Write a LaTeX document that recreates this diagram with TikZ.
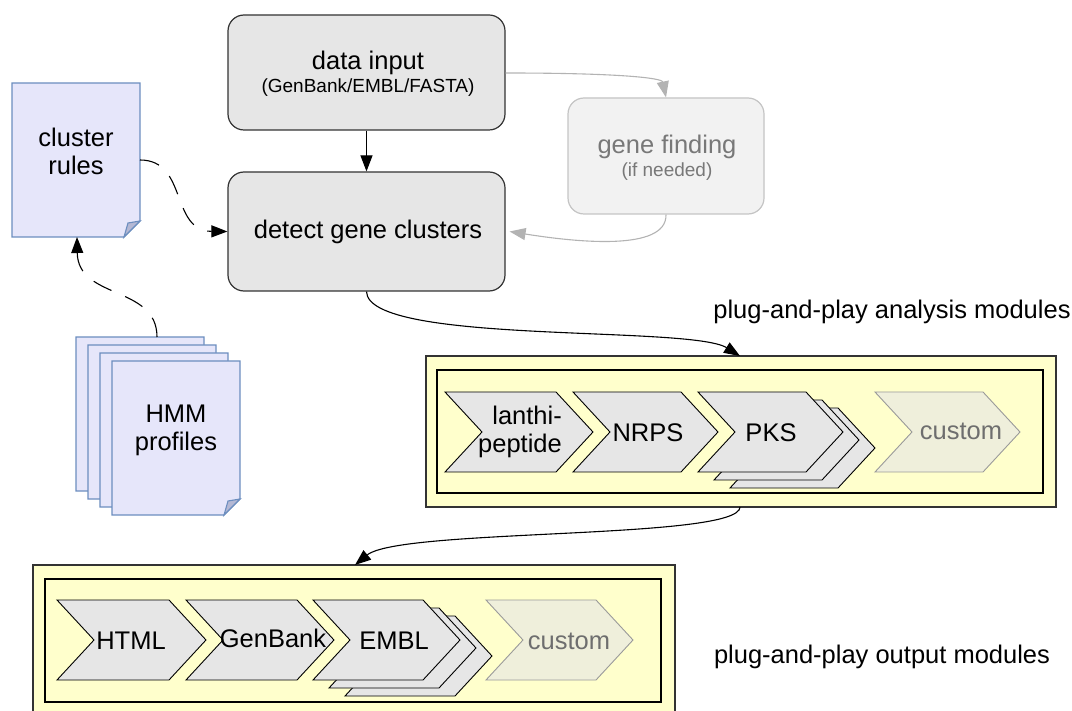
\documentclass[tikz,border=0pt]{standalone}
\usepackage{fontspec}
\setmainfont{Liberation Sans}
\usetikzlibrary{arrows.meta}
\definecolor{boxfill}{HTML}{E6E6E6}
\definecolor{boxline}{HTML}{333333}
\definecolor{gfill}{HTML}{F2F2F2}
\definecolor{gline}{HTML}{C4C4C4}
\definecolor{gtext}{HTML}{787878}
\definecolor{garrow}{HTML}{B3B3B3}
\definecolor{docfill}{HTML}{E6E6FA}
\definecolor{docline}{HTML}{6C8EBF}
\definecolor{foldfill}{HTML}{B4B8D4}
\definecolor{yel}{HTML}{FFFFCC}
\definecolor{cusfill}{HTML}{EFEFDB}
\definecolor{cusline}{HTML}{9A9A9A}
\definecolor{custext}{HTML}{6E6E6E}
\newcommand{\bigf}{\fontsize{25.5}{28}\selectfont}
\newcommand{\smallf}{\fontsize{19}{22}\selectfont}
\newcommand{\chevpath}[4]{% x y w style
  \draw[#4] (#1,#2) -- (#1+#3-37,#2) -- (#1+#3,#2+40) -- (#1+#3-37,#2+80) -- (#1,#2+80) -- (#1+37,#2+40) -- cycle;}
\newcommand{\docpath}[2]{% x y
  \draw[docstyle] (#1,#2) -- (#1+128,#2) -- (#1+128,#2+138) -- (#1+112,#2+154) -- (#1,#2+154) -- cycle;
  \draw[docstyle,fill=foldfill] (#1+128,#2+138) -- (#1+112,#2+154) -- (#1+116,#2+140) -- cycle;}
\begin{document}
\begin{tikzpicture}[x=1pt,y=-1pt,
  box/.style={draw=boxline,fill=boxfill,line width=1.2pt,rounded corners=16pt,inner sep=0pt},
  gbox/.style={draw=gline,fill=gfill,line width=1.2pt,rounded corners=16pt,inner sep=0pt},
  docstyle/.style={draw=docline,fill=docfill,line width=1.1pt,line join=miter},
  lbl/.style={font=\bigf,align=center,inner sep=0pt},
  slbl/.style={font=\smallf,align=center,inner sep=0pt},
  chev/.style={draw=black,fill=boxfill,line width=0.9pt,line join=miter},
  cchev/.style={draw=cusline,fill=cusfill,line width=0.9pt,line join=miter},
  ybox/.style={draw=boxline,fill=yel,line width=1.2pt},
  ibox/.style={draw=black,line width=1.2pt},
  arr/.style={-{Triangle[length=16pt,width=12pt]},line width=1.1pt},
  garr/.style={-{Triangle[length=16pt,width=12pt]},line width=1.1pt,draw=garrow,color=garrow},
  darr/.style={arr,dash pattern=on 20pt off 15pt}
]
\useasboundingbox (0,0) rectangle (1072,711);

% main boxes
\node[box,minimum width=277pt,minimum height=115pt] (input) at (366.5,72.5) {};
\node[lbl] (inputT) at (368,63) {data input};
\node[slbl] (inputS) at (368,88) {(GenBank/EMBL/FASTA)};
\node[box,minimum width=277pt,minimum height=119pt] (detect) at (366.5,231.5) {};
\node[lbl] (detectT) at (368,232) {detect gene clusters};
\node[gbox,minimum width=196pt,minimum height=116pt] (gene) at (666,156) {};
\node[lbl,text=gtext] (geneT) at (667,147) {gene finding};
\node[slbl,text=gtext] (geneS) at (667,172) {(if needed)};

\draw[arr] (input.south) -- (detect.north);
\draw[garr] (input.east |- 0,73) .. controls (620,73) and (662,78) .. (gene.north);
\coordinate (detR) at (detect.east);
\draw[garr] (gene.south) .. controls (667,252) and (575,242) .. ([xshift=4pt]detR);

% cluster rules document
\docpath{12}{83}
\node[lbl] (rules) at (76,151) {cluster\\rules};
\coordinate (rulesR) at (140,160);
\coordinate (rulesB) at (77,237);

% HMM profile stack
\docpath{76}{337}
\docpath{88}{345}
\docpath{100}{353}
\docpath{112}{361}
\node[lbl] (hmm) at (176,430) {HMM\\profiles};
\coordinate (hmmT) at (157,337);

\draw[darr] (hmmT) .. controls (157,285) and (78,300) .. (rulesB);
\draw[darr] (rulesR) .. controls (188,160) and (170,231) .. (detect.west);

% analysis modules
\node[lbl] (alabel) at (892,312) {plug-and-play analysis modules};
\draw[ybox] (426,356) rectangle (1056,507);
\draw[ibox] (437,370) rectangle (1043,493);
\coordinate (aTop) at (740,356);
\coordinate (aBot) at (740,507);
\chevpath{445}{392}{148}{chev}
\chevpath{573}{392}{145}{chev}
\chevpath{730}{408}{145}{chev}
\chevpath{714}{400}{145}{chev}
\chevpath{698}{392}{145}{chev}
\chevpath{875}{392}{145}{cchev}
\node[lbl,align=right] (lanthi) at (520,432) {lanthi-\\peptide};
\node[lbl] (nrps) at (648,433) {NRPS};
\node[lbl] (pks) at (771,433) {PKS};
\node[lbl,text=custext] (acustom) at (961,431) {custom};

\draw[arr] (detect.south) .. controls (368,345) and (690,325) .. (aTop);

% output modules
\node[lbl] (olabel) at (882,657) {plug-and-play output modules};
\draw[ybox] (33,565) rectangle (675,730);
\draw[ibox] (45,579) rectangle (661,702);
\coordinate (oTop) at (355,565);
\chevpath{57}{600}{149}{chev}
\chevpath{186}{600}{148}{chev}
\chevpath{345}{616}{147}{chev}
\chevpath{329}{608}{147}{chev}
\chevpath{313}{600}{147}{chev}
\chevpath{486}{600}{147}{cchev}
\node[lbl] (html) at (131,641) {HTML};
\node[lbl] (genbank) at (273,638) {GenBank};
\node[lbl] (embl) at (394,641) {EMBL};
\node[lbl,text=custext] (ocustom) at (569,641) {custom};

\draw[arr] (aBot) .. controls (740,540) and (400,528) .. (oTop);
\end{tikzpicture}
\end{document}
